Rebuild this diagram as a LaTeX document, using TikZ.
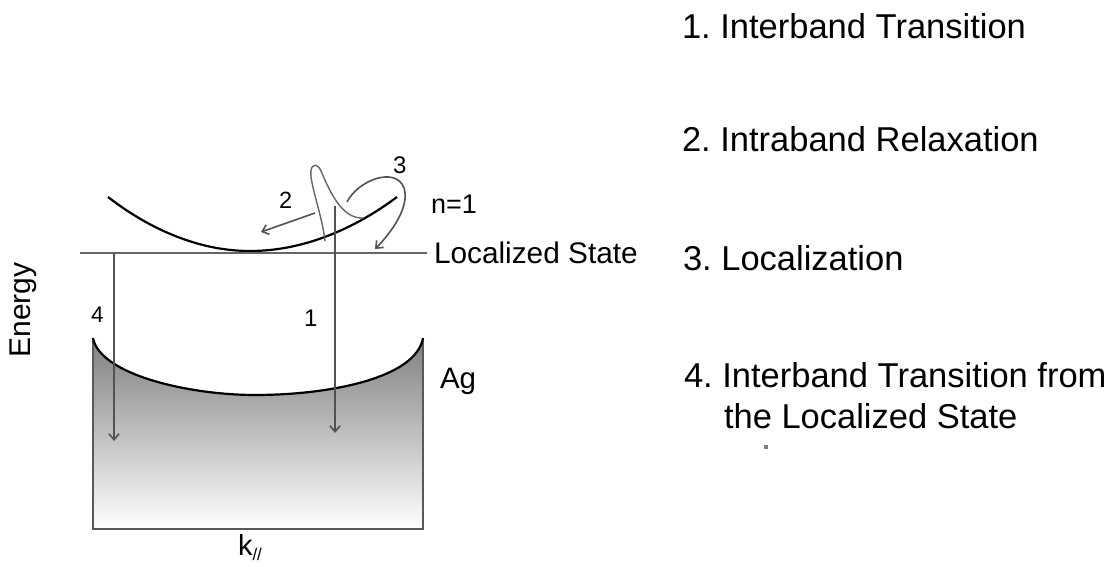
\documentclass[tikz,border=0pt]{standalone}
\usepackage{fontspec}
\setmainfont{Liberation Sans}
\usetikzlibrary{arrows.meta}
\frenchspacing
\begin{document}
\begin{tikzpicture}[x=1pt,y=-1pt,
  txt/.style={inner sep=0pt, outer sep=0pt, anchor=base west, text=black},
  arr/.style={draw=black!68, line width=1.6pt, -{Straight Barb[length=6pt,width=10pt,line width=1.6pt]}},
  level/.style={draw=black!60, line width=1.6pt},
  band/.style={draw=black, line width=2.2pt},
  boxline/.style={draw=black!65, line width=1.3pt},
  spike/.style={draw=black!60, line width=1.4pt},
]
\useasboundingbox (0,0) rectangle (1119,567);

% Ag band shading
\shade[top color=black!50, middle color=black!24, bottom color=white]
  (93,338) .. controls (100,375) and (190,395) .. (255,395)
  .. controls (330,395) and (416,378) .. (423,338) -- (423,529) -- (93,529) -- cycle;
\draw[boxline] (93,338) -- (93,529) -- (423,529) -- (423,338);
\draw[band] (93,338) .. controls (100,375) and (190,395) .. (255,395)
  .. controls (330,395) and (416,378) .. (423,338);

% n=1 band
\draw[band] (108,197) parabola bend (250,251) (397,197);

% labels
\node[txt, font=\fontsize{29.8}{31}\selectfont] (loc) at (434,263) {Localized State};
\node[txt, font=\fontsize{27}{28}\selectfont] (n1) at (431,213) {n=1};
\node[txt, font=\fontsize{29.5}{30}\selectfont] (ag) at (440,388) {Ag};
\node[txt, font=\fontsize{23.5}{24}\selectfont] (l2) at (279,208) {2};
\node[txt, font=\fontsize{24}{25}\selectfont] (l3) at (393,174) {3};
\node[txt, font=\fontsize{22.5}{24}\selectfont] (l4) at (91,322) {4};
\node[txt, font=\fontsize{24}{25}\selectfont] (l1) at (304,326) {1};
\node[inner sep=0pt, rotate=90, font=\fontsize{30}{32}\selectfont] (energy) at (23,310) {Energy};
\node[txt, font=\fontsize{29}{30}\selectfont] (kpar) at (238,555) {k\raisebox{-0.2em}{\fontsize{17}{17}\selectfont //}};

% localized state level
\coordinate (locL) at (80,253);
\draw[level] (locL) -- ([xshift=-7pt]loc.west |- locL);

% arrows 4 and 1
\coordinate (a4s) at (114,253);
\coordinate (a4e) at (114,441);
\coordinate (a1s) at (335,206);
\coordinate (a1e) at (335,433);
\draw[arr] (a4s) -- (a4e);
\draw[arr] (a1s) -- (a1e);

% spike (hot carrier distribution)
\draw[spike] (325,241) .. controls (322,214) and (309,182) .. (311,170)
  .. controls (313,163) and (318,164) .. (321,171)
  .. controls (330,192) and (342,219) .. (363,218);

% arrow 2
\coordinate (a2s) at (315,213);
\coordinate (a2e) at (261,232);
\draw[arr] (a2s) -- (a2e);

% arrow 3
\coordinate (a3s) at (347,202);
\coordinate (a3e) at (375,249);
\draw[arr] (a3s) .. controls (358,180) and (396,166) .. (404,188)
  .. controls (410,206) and (392,232) .. (a3e);

% right-hand list
\begin{scope}[every node/.style={txt, font=\fontsize{34.5}{38}\selectfont}]
\node (t1) at (682,39) {1. Interband Transition};
\node (t2) at (682,152) {2. Intraband Relaxation};
\node (t3) at (683,270) {3. Localization};
\node (t4) at (684,387) {4. Interband Transition from};
\node (t5) at (724,428) {the Localized State};
\end{scope}
\fill[black!50] (764,445) rectangle (768,449);
\end{tikzpicture}
\end{document}
